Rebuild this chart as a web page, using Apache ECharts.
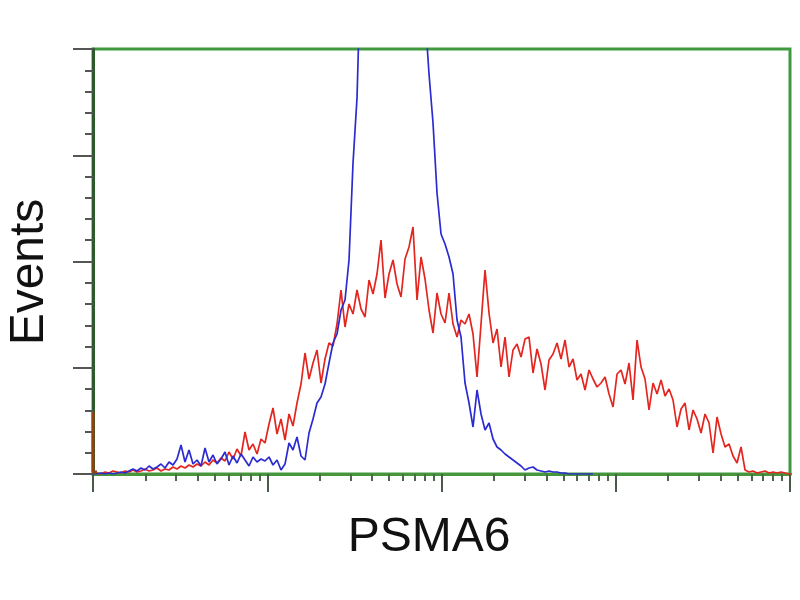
<!DOCTYPE html>
<html>
<head>
<meta charset="utf-8">
<script src="https://cdn.jsdelivr.net/npm/echarts@6/dist/echarts.min.js"></script>
<style>html,body{margin:0;padding:0;background:#fff}#c{width:800px;height:600px}</style>
</head>
<body>
<div id="c"></div>
<script>
// Histogram bins are log-spaced channels; bin i sits at 10^(i / binsPerDecade)
const binsPerDecade = 43.56;
const xMajorTicks = [1, 10, 100, 1000, 10000];
const xMinorTicks = [2,3,4,5,6,7,8,9,20,30,40,50,60,70,80,90,200,300,400,500,600,700,800,900,2000,3000,4000,5000,6000,7000,8000,9000];
const yMax = 425, yInterval = 106.25;

// Red: stained sample
const redCounts = [
  2,1,0,2,1,3,2,1,3,2,
  4,2,3,5,3,4,6,3,5,4,
  7,5,8,6,9,7,10,8,12,9,
  14,11,16,13,22,15,25,18,42,24,
  30,20,35,31,50,66,40,55,34,60,
  48,71,90,121,95,111,124,91,115,131,
  128,150,184,147,170,160,184,165,157,194,
  180,200,234,176,200,214,190,177,215,227,
  247,174,217,195,164,141,181,160,151,181,
  150,137,154,150,160,140,97,150,204,161,
  131,145,107,137,97,124,130,117,135,137,
  101,125,110,84,114,120,131,115,134,107,
  115,94,100,84,104,95,87,91,97,80,
  67,100,104,90,111,74,134,107,95,64,
  91,80,94,78,85,74,47,65,71,44,
  64,55,41,60,51,21,57,40,27,30,
  18,11,27,4,2,3,1,2,3,1,
  2,1,2,1,0,0
];
// Blue: control
const blueCounts = [
  0,0,1,0,1,0,1,2,1,3,
  5,3,6,4,8,5,7,10,6,12,
  9,15,29,12,24,10,14,8,26,12,
  19,10,15,22,9,18,11,20,14,8,
  17,12,15,13,17,9,14,4,10,31,
  24,37,18,14,41,55,71,77,90,111,
  131,140,164,174,214,311,376,520,650,750,
  820,860,880,900,890,870,850,820,780,720,
  650,590,520,460,400,351,281,240,230,217,
  200,154,137,91,71,47,84,60,44,51,
  35,27,24,20,17,14,11,8,4,6,
  7,4,3,2,3,2,2,1,1,0,
  0,0,0,0,0,0
];
// First channel (off-scale low events), overlapping colours
const originCounts = [62, 2];

function toPoints(arr) {
  return arr.map((v, i) => [Math.pow(10, i / binsPerDecade), v]);
}

const chart = echarts.init(document.getElementById('c'), null, {renderer: 'canvas'});
chart.setOption({
  backgroundColor: '#ffffff',
  animation: false,
  grid: {
    left: 93, top: 49, width: 697, height: 425,
    show: true, borderColor: '#3f9a3f', borderWidth: 3, backgroundColor: '#ffffff'
  },
  xAxis: [
    {
      type: 'log', logBase: 10, min: xMajorTicks[0], max: xMajorTicks[xMajorTicks.length - 1],
      interval: 1, position: 'bottom', gridIndex: 0, z: 4,
      axisLine: {show: true, lineStyle: {color: '#46963c', width: 3}},
      axisTick: {show: true, length: 18, lineStyle: {color: '#4a5a4a', width: 2}, customValues: xMajorTicks},
      axisLabel: {show: false},
      splitLine: {show: false}
    },
    {
      type: 'log', logBase: 10, min: xMajorTicks[0], max: xMajorTicks[xMajorTicks.length - 1],
      position: 'bottom', gridIndex: 0, z: 4,
      axisLine: {show: false},
      axisTick: {show: true, length: 7, lineStyle: {color: '#4a6a4a', width: 2}, customValues: xMinorTicks},
      axisLabel: {show: false},
      splitLine: {show: false}
    }
  ],
  yAxis: {
    type: 'value', min: 0, max: yMax, interval: yInterval, z: 4,
    axisLine: {show: true, lineStyle: {color: '#2c5a2c', width: 3}},
    axisTick: {show: true, length: 20, lineStyle: {color: '#555', width: 2}},
    minorTick: {show: true, splitNumber: 5, length: 8, lineStyle: {color: '#555', width: 2}},
    axisLabel: {show: false},
    splitLine: {show: false},
    minorSplitLine: {show: false}
  },
  series: [
    {
      name: 'Stained', type: 'line', xAxisIndex: 0, data: toPoints(redCounts),
      showSymbol: false, clip: true, z: 5,
      lineStyle: {color: '#e3261f', width: 1.7}
    },
    {
      name: 'Control', type: 'line', xAxisIndex: 0, data: toPoints(blueCounts),
      showSymbol: false, clip: true, z: 5,
      lineStyle: {color: '#2b2bd2', width: 1.7}
    },
    {
      name: 'Origin', type: 'line', xAxisIndex: 0, data: toPoints(originCounts),
      showSymbol: false, clip: false, step: 'start', z: 6,
      lineStyle: {color: '#94400f', width: 3}
    }
  ],
  graphic: [
    {
      type: 'text', x: 30, y: 272, rotation: Math.PI / 2,
      style: {text: 'Events', font: '48px "Liberation Sans", Arial, sans-serif', fill: '#111',
              textAlign: 'center', textVerticalAlign: 'middle'}
    },
    {
      type: 'text', x: 429, y: 538,
      style: {text: 'PSMA6', font: '48px "Liberation Sans", Arial, sans-serif', fill: '#111',
              textAlign: 'center', textVerticalAlign: 'middle'}
    }
  ]
});
</script>
</body>
</html>
